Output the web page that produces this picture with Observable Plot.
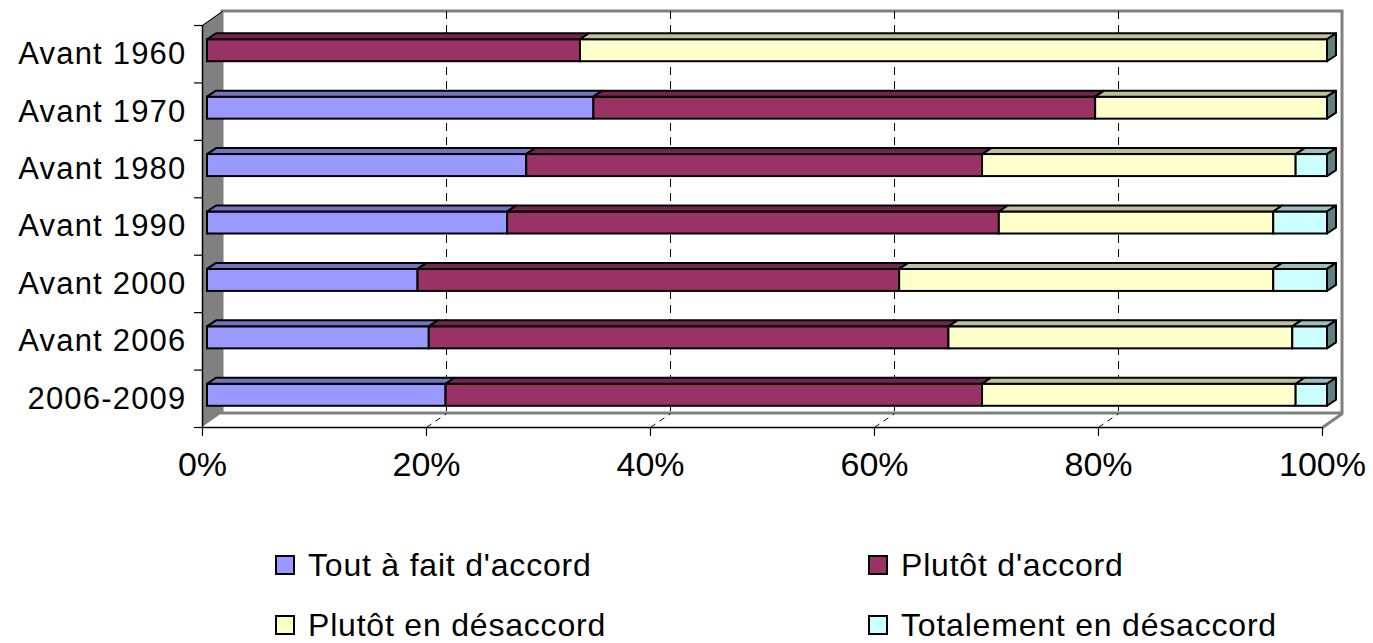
<!DOCTYPE html>
<html>
<head>
<meta charset="utf-8">
<script src="https://cdn.jsdelivr.net/npm/d3@7"></script>
<script src="https://cdn.jsdelivr.net/npm/@observablehq/plot@0.6"></script>
<style>
  html, body { margin: 0; padding: 0; background: #fff; }
  body { width: 1373px; height: 643px; position: relative; overflow: hidden; font-family: "Liberation Sans", Arial, sans-serif; }
  #chart { position: absolute; left: 0; top: 0; }
  .leg { position: absolute; display: flex; align-items: center; height: 32px; line-height: 32px; font-size: 32px; letter-spacing: 0.8px; color: #000; white-space: nowrap; }
  .sw { width: 16px; height: 16px; border: 2px solid #000; margin-right: 13px; }
</style>
</head>
<body>
<div id="chart"></div>
<div id="legend"></div>
<script>
// ---- data ----
const categories = ["Avant 1960", "Avant 1970", "Avant 1980", "Avant 1990", "Avant 2000", "Avant 2006", "2006-2009"];
const seriesNames = ["Tout à fait d'accord", "Plutôt d'accord", "Plutôt en désaccord", "Totalement en désaccord"];
const toutAFait      = [0,    34.5, 28.5, 26.8, 18.8, 19.8, 21.3];
const plutotAccord   = [33.3, 44.8, 40.7, 43.9, 43.0, 46.4, 47.9];
const plutotDesacc   = [66.7, 20.7, 28.0, 24.5, 33.4, 30.7, 28.0];
const totalDesacc    = [0,    0,    2.8,  4.8,  4.8,  3.1,  2.8];
const xTicks = [0, 20, 40, 60, 80, 100];
const xTickLabels = ["0%", "20%", "40%", "60%", "80%", "100%"];

// ---- style ----
const faceColors = ["#9999FF", "#993366", "#FFFFCC", "#CCFFFF"];
const topColors  = ["#7373BF", "#73264D", "#BFBF99", "#99BFBF"];
const sideColor  = "#608080";

const W = 1373, H = 500, ml = 202, mr = 51, mt = 25, mb = 73;
const kx = (W - ml - mr) / 100;       // px per percent
const ky = (H - mt - mb) / categories.length; // px per category
const DX = 20 / kx, DY = -14 / ky;    // wall depth in data units
const barHalf = 11 / ky;              // half bar face height
const bdx = 9 / kx, bdy = -6 / ky;    // bar depth
const fdx = 5, fdy = -3.5;            // bar face offset (px)

const seriesValues = [toutAFait, plutotAccord, plutotDesacc, totalDesacc];
const segs = [];
categories.forEach((c, i) => {
  let acc = 0;
  seriesValues.forEach((vals, j) => {
    const v = vals[i];
    if (v > 0) segs.push({i, j, a: acc, b: acc + v, key: i + "-" + j});
    acc += v;
  });
});
const topPts = [];
segs.forEach(s => {
  const yTop = s.i + 0.5 - barHalf;
  topPts.push({key: s.key, j: s.j, y: yTop, x1: s.a, x2: s.b});
  topPts.push({key: s.key, j: s.j, y: yTop + bdy, x1: s.a + bdx, x2: s.b + bdx});
});
const sidePts = [];
categories.forEach((c, i) => {
  const rowSegs = segs.filter(s => s.i === i);
  const last = rowSegs[rowSegs.length - 1];
  const yTop = i + 0.5 - barHalf, yBot = i + 0.5 + barHalf;
  sidePts.push({key: i, x: last.b, y1: yTop, y2: yBot});
  sidePts.push({key: i, x: last.b + bdx, y1: yTop + bdy, y2: yBot + bdy});
});
const grid = xTicks.filter(t => t > 0 && t < 100);
const n = categories.length;

const chart = Plot.plot({
  width: W, height: H,
  marginLeft: ml, marginRight: mr, marginTop: mt, marginBottom: mb,
  x: {domain: [0, 100], axis: null},
  y: {domain: [0, n], reverse: true, axis: null},
  color: {type: "identity"},
  style: {fontFamily: "'Liberation Sans', Arial, sans-serif", background: "white"},
  marks: [
    // floor
    Plot.areaX([{y: n, x1: 0, x2: 100}, {y: n + DY, x1: DX, x2: 100 + DX}], {y: "y", x1: "x1", x2: "x2", fill: "white"}),
    // back wall
    Plot.rect([{}], {x1: DX, x2: 100 + DX, y1: DY, y2: n + DY, fill: "white", stroke: "#808080", strokeWidth: 3}),
    // left wall
    Plot.areaY([{x: 0, y1: 0, y2: n}, {x: DX, y1: DY, y2: n + DY}], {x: "x", y1: "y1", y2: "y2", fill: "#808080"}),
    // gridlines
    Plot.ruleX(grid, {x: d => d + DX, y1: DY, y2: n + DY, stroke: "black", strokeWidth: 1, strokeDasharray: "8,6"}),
    Plot.link(grid, {x1: d => d, y1: n, x2: d => d + DX, y2: n + DY, stroke: "black", strokeWidth: 1, strokeDasharray: "6,5"}),
    // right floor edge
    Plot.link([100], {x1: 100, y1: n, x2: 100 + DX, y2: n + DY, stroke: "#808080", strokeWidth: 3}),
    // axes
    Plot.ruleY([n], {x1: 0, x2: 100, stroke: "black", strokeWidth: 1.5}),
    Plot.ruleX([0], {y1: 0, y2: n, stroke: "black", strokeWidth: 1.5}),
    Plot.link([0], {x1: 0, y1: 0, x2: DX, y2: DY, stroke: "black", strokeWidth: 1}),
    Plot.ruleY(d3.range(n + 1), {x1: -8 / kx, x2: 0, stroke: "black", strokeWidth: 1.2}),
    Plot.ruleX(xTicks, {y1: n, y2: n + 9 / ky, stroke: "black", strokeWidth: 1.2}),
    // labels
    Plot.text(categories, {x: 0, y: (d, i) => i + 0.5, text: d => d, textAnchor: "end", dx: -16, fontSize: 31, fill: "black"}),
    Plot.text(xTicks, {x: d => d, y: n, text: (d, i) => xTickLabels[i], dy: 38, fontSize: 34, fill: "black"}),
    // bars: front faces
    Plot.rect(segs, {x1: "a", x2: "b", y1: d => d.i + 0.5 - barHalf, y2: d => d.i + 0.5 + barHalf,
      fill: d => faceColors[d.j], stroke: "black", strokeWidth: 2, dx: fdx, dy: fdy}),
    // top faces
    Plot.areaX(topPts, {y: "y", x1: "x1", x2: "x2", z: "key", fill: d => topColors[d.j],
      stroke: "black", strokeWidth: 2, strokeLinejoin: "round", dx: fdx, dy: fdy}),
    // side faces
    Plot.areaY(sidePts, {x: "x", y1: "y1", y2: "y2", z: "key", fill: sideColor,
      stroke: "black", strokeWidth: 2, strokeLinejoin: "round", dx: fdx, dy: fdy})
  ]
});
// letter spacing on category labels
chart.querySelectorAll("text").forEach(t => {
  if (categories.includes(t.textContent)) t.style.letterSpacing = "1.2px";
});
document.getElementById("chart").appendChild(chart);

// legend
const legPos = [
  {left: 275, top: 549}, {left: 868, top: 549},
  {left: 275, top: 609}, {left: 868, top: 609}
];
const legend = document.getElementById("legend");
seriesNames.forEach((name, j) => {
  const d = document.createElement("div");
  d.className = "leg";
  d.style.left = legPos[j].left + "px";
  d.style.top = legPos[j].top + "px";
  d.innerHTML = `<div class="sw" style="background:${faceColors[j]}"></div><span></span>`;
  d.querySelector("span").textContent = name;
  legend.appendChild(d);
});
</script>
</body>
</html>
